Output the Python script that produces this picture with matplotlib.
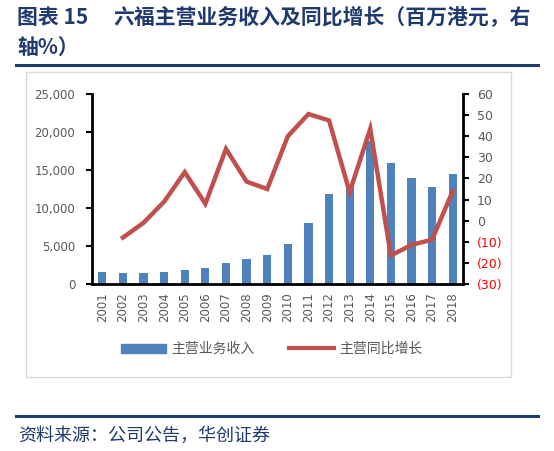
import matplotlib.pyplot as plt
import matplotlib.lines as mlines
import matplotlib.patches as mpatches
from matplotlib.ticker import FuncFormatter

plt.rcParams['font.family'] = ['Noto Sans CJK SC', 'DejaVu Sans']

# data
years = ['2001', '2002', '2003', '2004', '2005', '2006', '2007', '2008', '2009',
         '2010', '2011', '2012', '2013', '2014', '2015', '2016', '2017', '2018']
revenue = [1550, 1400, 1400, 1550, 1900, 2100, 2800, 3300, 3800,
           5300, 8000, 11900, 13000, 18800, 15900, 14000, 12800, 14500]
growth_years = years[1:]
growth = [-8, -1, 9, 23, 8, 34, 18.5, 15, 40, 50.5, 47.5, 13.5, 43.5,
          -16.5, -11.5, -9, 14]

title_num = '图表 15'
title_1 = '六福主营业务收入及同比增长（百万港元，右'
title_2 = '轴%）'
source = '资料来源：公司公告，华创证券'
bar_label = '主营业务收入'
line_label = '主营同比增长'

blue = '#4F81BD'
red = '#C0504D'
gray = '#595959'
navy = '#1F3A6E'

fig = plt.figure(figsize=(5.54, 4.51), dpi=100)

# chart frame
fig.patches.append(mpatches.Rectangle((26/554, 1-377/451), (511-26)/554, (377-72)/451,
                                      transform=fig.transFigure, fill=False,
                                      edgecolor='#D9D9D9', linewidth=1))
# title / footer rules
fig.add_artist(mlines.Line2D([16/554, 538/554], [1-65/451, 1-65/451], color=navy, lw=2.2))
fig.add_artist(mlines.Line2D([16/554, 538/554], [1-416/451, 1-416/451], color=navy, lw=2.2))
fig.text(17/554, 1-17/451, title_num, fontsize=15, fontweight='bold', color=navy, va='center')
fig.text(113/554, 1-17/451, title_1, fontsize=15, fontweight='bold', color=navy, va='center')
fig.text(17/554, 1-47/451, title_2, fontsize=15, fontweight='bold', color=navy, va='center')
fig.text(18/554, 1-436/451, source, fontsize=13, style='italic', color=navy, va='center')

ax = fig.add_axes([92/554, 1-284/451, (463-92)/554, (284-94)/451])
x = list(range(len(years)))
ax.bar(x, revenue, width=0.4, color=blue, zorder=2)
ax.set_xlim(-0.5, len(years) - 0.5)
ax.set_ylim(0, 25000)
ax.set_yticks(range(0, 25001, 5000))
ax.yaxis.set_major_formatter(FuncFormatter(lambda v, p: f'{int(v):,}'))
ax.set_xticks(x)
ax.set_xticklabels(years, rotation=90, fontsize=8.5, color=gray, family='DejaVu Sans')
ax.tick_params(axis='x', length=0, pad=6)
ax.tick_params(axis='y', labelsize=8.5, labelcolor=gray, length=4, width=1.5, direction='out', pad=8)
for lab in ax.get_yticklabels():
    lab.set_family('DejaVu Sans')
ax.spines['top'].set_visible(False)
ax.spines['right'].set_visible(False)
ax.spines['left'].set_linewidth(2)
ax.spines['bottom'].set_linewidth(2)

ax2 = ax.twinx()
gx = [years.index(y) for y in growth_years]
ax2.plot(gx, growth, color=red, lw=3.2, solid_joinstyle='miter', zorder=3)
ax2.set_ylim(-30, 60)
ax2.set_yticks(range(-30, 61, 10))
ax2.yaxis.set_major_formatter(FuncFormatter(lambda v, p: f'({abs(int(v))})' if v < 0 else f'{int(v)}'))
ax2.tick_params(axis='y', labelsize=9, length=4, width=1.5, direction='out', pad=6)
for lab, v in zip(ax2.get_yticklabels(), ax2.get_yticks()):
    lab.set_color('#FF0000' if v < 0 else gray)
    lab.set_family('DejaVu Sans')
ax2.spines['top'].set_visible(False)
ax2.spines['left'].set_visible(False)
ax2.spines['bottom'].set_visible(False)
ax2.spines['right'].set_linewidth(2)

handles = [mpatches.Patch(color=blue, label=bar_label),
           mlines.Line2D([], [], color=red, lw=3, label=line_label)]
fig.legend(handles=handles, loc='center', bbox_to_anchor=(272/554, 1-349/451), ncol=2,
           frameon=False, fontsize=10, labelcolor=gray, handlelength=3.2,
           handleheight=0.6, columnspacing=2.5, handletextpad=0.4)

fig.savefig('out.png', dpi=100)
